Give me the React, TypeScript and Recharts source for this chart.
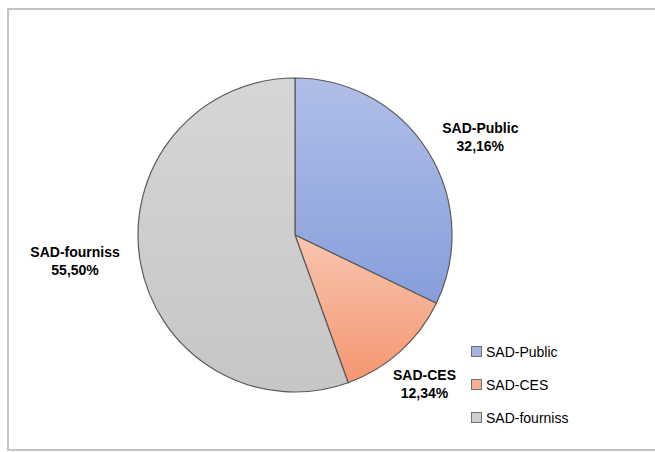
import { Pie, PieChart, Cell, Legend } from "recharts";

const categories = ["SAD-Public", "SAD-CES", "SAD-fourniss"];
const shares = [32.16, 12.34, 55.5];
const shareLabels = ["32,16%", "12,34%", "55,50%"];

const data = categories.map((name, i) => ({ name, value: shares[i], label: shareLabels[i] }));

const grads = [
  { id: "gPublic", top: "#b0bfe8", bottom: "#879edb", swatch: "#a3b3e2" },
  { id: "gCes", top: "#f8c6b0", bottom: "#f59670", swatch: "#f6b090" },
  { id: "gFour", top: "#d6d6d6", bottom: "#c6c6c6", swatch: "#cfcfcf" },
];

// small shifts so labels sit like Excel's "best fit"
const labelShift: Record<string, [number, number]> = {
  "SAD-Public": [10, 12],
  "SAD-CES": [-9, -5],
  "SAD-fourniss": [-16, -10],
};

const RAD = Math.PI / 180;

function renderLabel(props: any) {
  const { cx, cy, midAngle, outerRadius, payload } = props;
  const name = payload.name;
  const r = outerRadius + 50;
  const [dx, dy] = labelShift[name] ?? [0, 0];
  const x = cx + r * Math.cos(-midAngle * RAD) + dx;
  const y = cy + r * Math.sin(-midAngle * RAD) + dy;
  return (
    <text
      x={x}
      y={y}
      textAnchor="middle"
      fontFamily="Liberation Sans, Arial, sans-serif"
      fontWeight="bold"
      fontSize={14}
      fill="#000"
    >
      <tspan x={x} dy={-4}>{name}</tspan>
      <tspan x={x} dy={18}>{payload.label}</tspan>
    </text>
  );
}

function LegendBox() {
  return (
    <div style={{ fontFamily: "Liberation Sans, Arial, sans-serif", fontSize: 14, color: "#000" }}>
      {categories.map((c, i) => (
        <div key={c} style={{ display: "flex", alignItems: "center", height: 33 }}>
          <span
            style={{
              width: 9,
              height: 9,
              background: grads[i].swatch,
              border: "1px solid #707070",
              marginRight: 4,
              display: "inline-block",
            }}
          />
          {c}
        </div>
      ))}
    </div>
  );
}

export default function App() {
  return (
    <div style={{ position: "fixed", left: 0, top: 0, width: 655, height: 452, background: "#fff" }}>
      <div
        style={{
          position: "absolute",
          left: 7,
          top: 8,
          width: 648,
          height: 443,
          boxSizing: "border-box",
          borderTop: "2px solid #c4c4c4",
          borderLeft: "2px solid #c4c4c4",
          borderBottom: "2px solid #c4c4c4",
        }}
      />
      <div style={{ position: "absolute", left: 0, top: 0 }}>
        <PieChart width={655} height={452} margin={{ top: 0, right: 0, bottom: 0, left: 0 }}>
          <defs>
            {grads.map((g) => (
              <linearGradient key={g.id} id={g.id} x1="0" y1="0" x2="0" y2="1">
                <stop offset="0%" stopColor={g.top} />
                <stop offset="100%" stopColor={g.bottom} />
              </linearGradient>
            ))}
          </defs>
          <Pie
            data={data}
            dataKey="value"
            nameKey="name"
            cx={295}
            cy={235}
            outerRadius={157}
            startAngle={90}
            endAngle={-270}
            stroke="#5a5a5a"
            strokeWidth={1.2}
            label={renderLabel}
            labelLine={false}
            isAnimationActive={false}
          >
            {data.map((d, i) => (
              <Cell key={d.name} fill={`url(#${grads[i].id})`} />
            ))}
          </Pie>
          <Legend
            content={<LegendBox />}
            wrapperStyle={{ left: 471, top: 335, width: 180 }}
          />
        </PieChart>
      </div>
    </div>
  );
}
